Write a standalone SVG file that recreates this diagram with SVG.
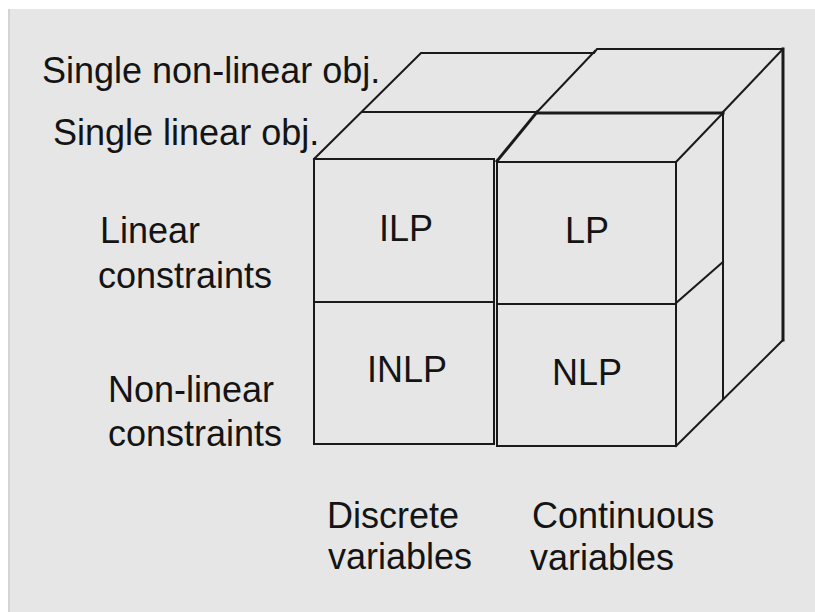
<svg xmlns="http://www.w3.org/2000/svg" width="815" height="612" viewBox="0 0 815 612">
  <style>
    .t { font-family: "Liberation Sans", Arial, sans-serif; font-size: 36px; fill: #141414; }
    .c { text-anchor: middle; }
    .ln { stroke: #1a1a1a; stroke-width: 2; fill: none; stroke-linecap: square; }
    .thk { stroke-width: 3; }
  </style>
  <rect x="0" y="0" width="815" height="612" fill="#ffffff"/>
  <rect x="8" y="9" width="807" height="603" fill="#e6e6e6"/>
  <line x1="9" y1="9" x2="9" y2="612" stroke="#d4d4d4" stroke-width="2"/>

  <g id="connectors">
    <!-- back layer (single non-linear obj.) -->
    <polyline class="ln" points="314,159 421,53 594,53 597,49 783,49"/>
    <line class="ln thk" x1="783" y1="49" x2="783" y2="340"/>
    <line class="ln" x1="783" y1="340" x2="676" y2="446"/>
    <line class="ln" x1="537" y1="112" x2="595" y2="51"/>
    <line class="ln" x1="723" y1="112" x2="783" y2="49"/>
    <!-- middle layer (single linear obj.) -->
    <line class="ln" x1="362" y1="112" x2="537" y2="112"/>
    <line class="ln thk" x1="537" y1="113" x2="723" y2="113"/>
    <line class="ln thk" x1="537" y1="112" x2="497" y2="161"/>
    <line class="ln" x1="676" y1="162" x2="723" y2="113"/>
    <line class="ln" x1="723" y1="113" x2="723" y2="399"/>
    <line class="ln" x1="676" y1="303" x2="723" y2="262"/>
  </g>

  <g id="ILP">
    <rect class="ln" x="314" y="159" width="180" height="143"/>
    <text class="t c" x="406" y="241">ILP</text>
  </g>
  <g id="INLP">
    <rect class="ln" x="314" y="302" width="180" height="142"/>
    <text class="t c" x="407" y="382">INLP</text>
  </g>
  <g id="LP">
    <rect class="ln" x="497" y="162" width="179" height="142"/>
    <text class="t c" x="587" y="243">LP</text>
  </g>
  <g id="NLP">
    <rect class="ln" x="497" y="304" width="179" height="142"/>
    <text class="t c" x="587" y="385">NLP</text>
  </g>

  <g id="labels">
    <text class="t" x="42" y="83">Single non-linear obj.</text>
    <text class="t" x="53" y="145">Single linear obj.</text>
    <text class="t" x="100" y="243">Linear</text>
    <text class="t" x="98" y="288">constraints</text>
    <text class="t" x="108" y="402">Non-linear</text>
    <text class="t" x="108" y="446">constraints</text>
    <text class="t" x="327" y="528">Discrete</text>
    <text class="t" x="328" y="569">variables</text>
    <text class="t" x="532" y="528">Continuous</text>
    <text class="t" x="530" y="570">variables</text>
  </g>
</svg>
